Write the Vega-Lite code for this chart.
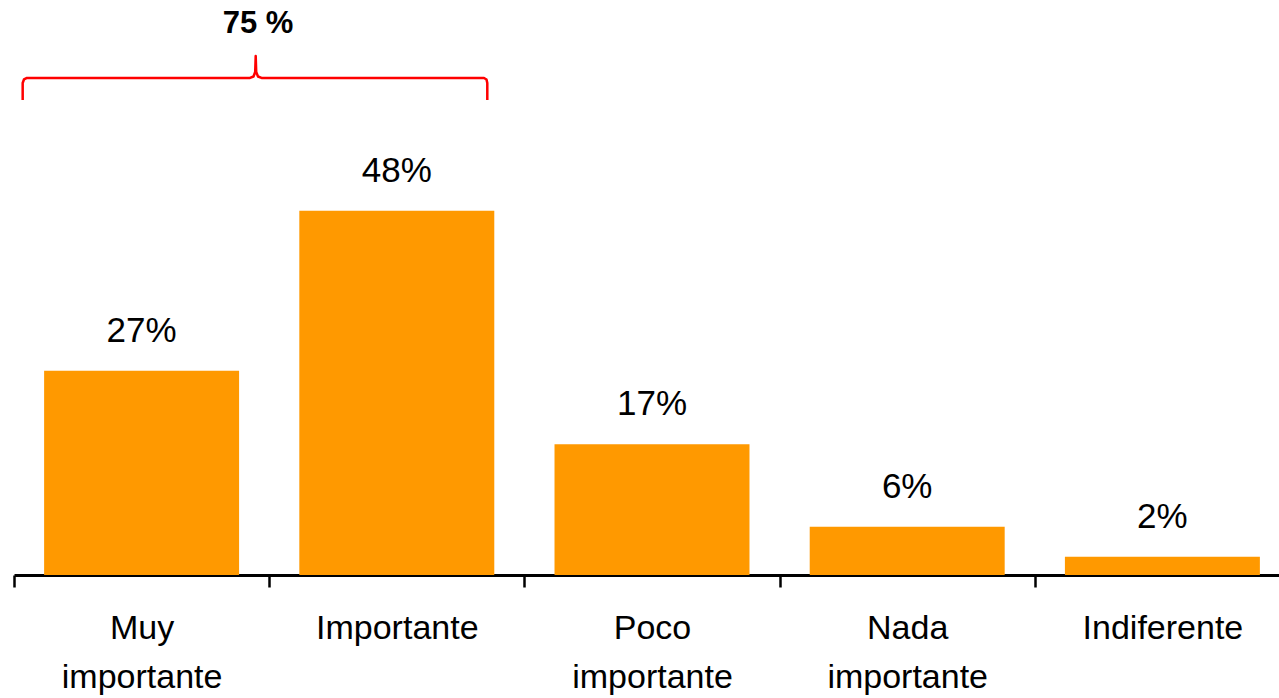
{
  "$schema": "https://vega.github.io/schema/vega-lite/v6.json",
  "background": "white",
  "autosize": {"type": "none"},
  "padding": {"left": 14, "top": 0, "right": 0, "bottom": 123},
  "width": 1265,
  "height": 575,
  "datasets": {
    "respuestas": [
      {"categoria": "Muy importante", "valor": 0.267},
      {"categoria": "Importante", "valor": 0.476},
      {"categoria": "Poco importante", "valor": 0.171},
      {"categoria": "Nada importante", "valor": 0.063},
      {"categoria": "Indiferente", "valor": 0.024}
    ],
    "llave": [
      {"orden": 1, "pos": 0.034, "nivel": 0.6209},
      {"orden": 2, "pos": 0.034, "nivel": 0.6431},
      {"orden": 3, "pos": 0.039, "nivel": 0.6477},
      {"orden": 4, "pos": 0.051, "nivel": 0.6497},
      {"orden": 5, "pos": 0.9248, "nivel": 0.6497},
      {"orden": 6, "pos": 0.9385, "nivel": 0.6516},
      {"orden": 7, "pos": 0.9451, "nivel": 0.6575},
      {"orden": 8, "pos": 0.9471, "nivel": 0.6784},
      {"orden": 9, "pos": 0.9491, "nivel": 0.6575},
      {"orden": 10, "pos": 0.9561, "nivel": 0.6516},
      {"orden": 11, "pos": 0.9698, "nivel": 0.6497},
      {"orden": 12, "pos": 1.8417, "nivel": 0.6497},
      {"orden": 13, "pos": 1.8515, "nivel": 0.6477},
      {"orden": 14, "pos": 1.8546, "nivel": 0.6431},
      {"orden": 15, "pos": 1.8546, "nivel": 0.6209}
    ],
    "total": [
      {"pos": 0.956, "nivel": 0.7081, "texto": "75 %"}
    ]
  },
  "layer": [
    {
      "data": {"name": "respuestas"},
      "encoding": {
        "x": {
          "field": "categoria",
          "type": "nominal",
          "sort": null,
          "scale": {"range": [0, 1276], "paddingInner": 0, "paddingOuter": 0},
          "axis": {
            "title": null,
            "orient": "bottom",
            "labelAngle": 0,
            "labelExpr": "split(datum.label, ' ')",
            "labelFont": "Liberation Sans",
            "labelFontSize": 34,
            "labelColor": "black",
            "labelPadding": 24,
            "labelLineHeight": 49.5,
            "labelBaseline": "top",
            "labelOverlap": false,
            "labelLimit": 0,
            "labelBound": false,
            "domainColor": "black",
            "domainWidth": 3,
            "tickColor": "black",
            "tickWidth": 2.5,
            "tickSize": 12,
            "tickBand": "extent"
          }
        },
        "y": {
          "field": "valor",
          "type": "quantitative",
          "scale": {"domain": [0, 0.7516], "nice": false},
          "axis": null
        }
      },
      "layer": [
        {"mark": {"type": "bar", "color": "#FF9900", "width": {"band": 0.764}}},
        {
          "mark": {
            "type": "text",
            "font": "Liberation Sans",
            "fontSize": 35,
            "color": "black",
            "baseline": "alphabetic",
            "dy": -29
          },
          "encoding": {"text": {"field": "valor", "type": "quantitative", "format": ".0%"}}
        }
      ]
    },
    {
      "data": {"name": "llave"},
      "mark": {"type": "line", "color": "#FF0000", "strokeWidth": 2.5, "strokeJoin": "round"},
      "encoding": {
        "x": {
          "field": "pos",
          "type": "quantitative",
          "scale": {"domain": [0, 5], "range": [0, 1276], "nice": false, "zero": false},
          "axis": null
        },
        "y": {
          "field": "nivel",
          "type": "quantitative",
          "scale": {"domain": [0, 0.7516], "nice": false},
          "axis": null
        },
        "order": {"field": "orden", "type": "quantitative"}
      }
    },
    {
      "data": {"name": "total"},
      "mark": {
        "type": "text",
        "font": "Liberation Sans",
        "fontSize": 31,
        "fontWeight": "bold",
        "color": "black",
        "baseline": "alphabetic"
      },
      "encoding": {
        "x": {
          "field": "pos",
          "type": "quantitative",
          "scale": {"domain": [0, 5], "range": [0, 1276], "nice": false, "zero": false},
          "axis": null
        },
        "y": {
          "field": "nivel",
          "type": "quantitative",
          "scale": {"domain": [0, 0.7516], "nice": false},
          "axis": null
        },
        "text": {"field": "texto"}
      }
    }
  ],
  "resolve": {"scale": {"x": "independent"}},
  "config": {
    "view": {"stroke": null}
  }
}
